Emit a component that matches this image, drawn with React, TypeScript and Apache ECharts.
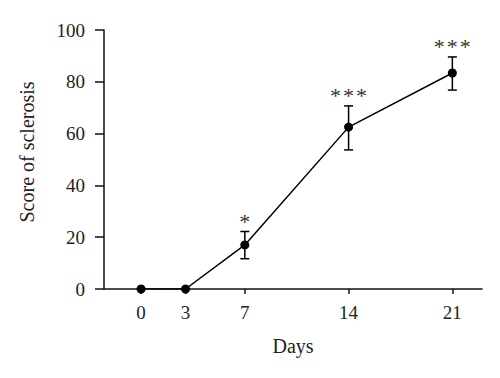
import React, { useEffect, useRef } from "react";
import * as echarts from "echarts";

const days = [0, 3, 7, 14, 21];
const scores = [0, 0, 17, 62.5, 83.4];
const errLow = [0, 0, 11.7, 53.7, 76.8];
const errHigh = [0, 0, 22.2, 70.7, 89.6];
const significance = ["", "", "*", "***", "***"];
const xTicks = [0, 3, 7, 14, 21];
const yTicks = [0, 20, 40, 60, 80, 100];

const FONT = "'Liberation Serif', 'DejaVu Serif', serif";

export default function App() {
  const ref = useRef<HTMLDivElement>(null);
  useEffect(() => {
    if (!ref.current) return;
    const chart = echarts.init(ref.current, undefined, { renderer: "svg" });
    const errData = days
      .map((d, i) => [d, errLow[i], errHigh[i], significance[i]])
      .filter((r) => r[3] !== "");
    chart.setOption({
      animation: false,
      backgroundColor: "#ffffff",
      grid: { left: 104, right: 18, top: 30, bottom: 89, containLabel: false },
      xAxis: {
        type: "value",
        min: -2.5,
        max: 23,
        name: "Days",
        nameLocation: "middle",
        nameGap: 47,
        nameTextStyle: { fontFamily: FONT, fontSize: 20, color: "#222" },
        axisLine: { show: true, onZero: false, lineStyle: { color: "#111", width: 1.5 } },
        axisTick: { show: true, customValues: xTicks, length: 5, lineStyle: { color: "#111", width: 1.5 } },
        axisLabel: { customValues: xTicks, fontFamily: FONT, fontSize: 19, color: "#222", margin: 14 },
        splitLine: { show: false },
      },
      yAxis: {
        type: "value",
        min: 0,
        max: 100,
        interval: 20,
        name: "Score of sclerosis",
        nameLocation: "middle",
        nameGap: 67,
        nameRotate: 90,
        nameTextStyle: { fontFamily: FONT, fontSize: 20, color: "#222", padding: [0, 0, 0, 15] },
        axisLine: { show: true, onZero: false, lineStyle: { color: "#111", width: 1.5 } },
        axisTick: { show: true, length: 9, lineStyle: { color: "#111", width: 1.5 } },
        axisLabel: {
          fontFamily: FONT,
          fontSize: 19,
          color: "#222",
          margin: 19,
          customValues: yTicks,
        },
        splitLine: { show: false },
      },
      series: [
        {
          type: "line",
          data: days.map((d, i) => [d, scores[i]]),
          symbol: "circle",
          symbolSize: 9,
          itemStyle: { color: "#000" },
          lineStyle: { color: "#000", width: 1.5 },
          z: 3,
        },
        {
          type: "custom",
          data: errData,
          z: 2,
          renderItem: (params: any, api: any) => {
            const x = api.value(0);
            const lo = api.coord([x, api.value(1)]);
            const hi = api.coord([x, api.value(2)]);
            const label = errData[params.dataIndex][3] as string;
            const w = 4.5;
            const step = 13;
            const style = { stroke: "#000", lineWidth: 1.5 };
            const chars = label.split("");
            const stars = chars.map((c, k) => ({
              type: "text",
              x: hi[0] + (k - (chars.length - 1) / 2) * step,
              y: hi[1] - 10,
              style: {
                text: c,
                fontFamily: FONT,
                fontSize: 22,
                fill: "#333",
                align: "center",
                verticalAlign: "middle",
              },
            }));
            return {
              type: "group",
              children: [
                { type: "line", shape: { x1: hi[0], y1: hi[1], x2: lo[0], y2: lo[1] }, style },
                { type: "line", shape: { x1: hi[0] - w, y1: hi[1], x2: hi[0] + w, y2: hi[1] }, style },
                { type: "line", shape: { x1: lo[0] - w, y1: lo[1], x2: lo[0] + w, y2: lo[1] }, style },
                ...stars,
              ],
            };
          },
        },
      ],
    });
    return () => chart.dispose();
  }, []);
  return (
    <div
      ref={ref}
      style={{ position: "absolute", left: 0, top: 0, width: 500, height: 378 }}
    />
  );
}
